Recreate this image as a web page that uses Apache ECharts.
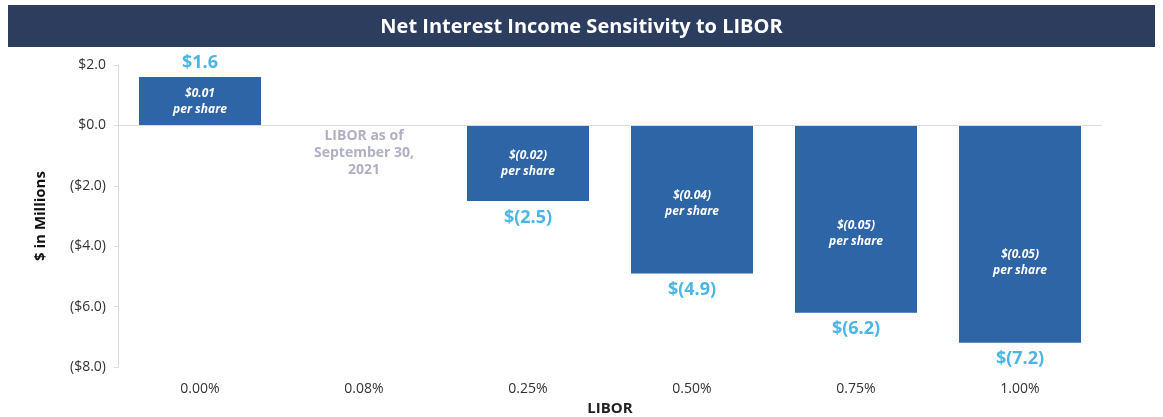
<!DOCTYPE html>
<html>
<head>
<meta charset="utf-8">
<script src="https://cdn.jsdelivr.net/npm/echarts@6/dist/echarts.min.js"></script>
<style>html,body{margin:0;padding:0;background:#fff;}#c{width:1163px;height:417px;}</style>
</head>
<body>
<div id="c"></div>
<script>
const titleText = 'Net Interest Income Sensitivity to LIBOR';
const categories = ['0.00%', '0.08%', '0.25%', '0.50%', '0.75%', '1.00%'];
const values = [1.6, null, -2.5, -4.9, -6.2, -7.2];
const valueLabels = ['$1.6', '', '$(2.5)', '$(4.9)', '$(6.2)', '$(7.2)'];
const perShare = ['$0.01', '', '$(0.02)', '$(0.04)', '$(0.05)', '$(0.05)'];
const noteCategory = '0.08%';
const noteText = 'LIBOR as of\nSeptember 30,\n2021';
const yMin = -8, yMax = 2, yStep = 2;
const yAxisName = '$ in Millions';
const xAxisName = 'LIBOR';

const FONT = 'Open Sans';
const innerShift = [0, 0, 0, 4, 15, 28];

function fmtY(v) {
  if (v < 0) return '($' + Math.abs(v).toFixed(1) + ')';
  return '$' + v.toFixed(1);
}

const barData = values.map((v, i) => v == null ? null : {
  value: v,
  label: {
    show: true,
    position: 'inside',
    offset: [0, innerShift[i]],
    formatter: perShare[i] + '\nper share'
  }
});

const valueLabelData = values.map((v, i) => v == null ? null : {
  value: [categories[i], v],
  label: {
    show: true,
    position: v >= 0 ? 'top' : 'bottom',
    distance: v >= 0 ? 5 : 7,
    formatter: valueLabels[i]
  }
}).filter(d => d);

const chart = echarts.init(document.getElementById('c'), null, {renderer: 'canvas'});
chart.setOption({
  animation: false,
  backgroundColor: '#fff',
  graphic: [{
    type: 'rect', left: 8, top: 5, z: -1,
    shape: {width: 1147, height: 42},
    style: {fill: '#2c3d5e'}
  }],
  title: {
    text: titleText, left: 'center', top: 12,
    textStyle: {color: '#fff', fontFamily: FONT, fontWeight: 'bold', fontSize: 20}
  },
  grid: {left: 118, right: 61, top: 65, bottom: 50, containLabel: false, outerBoundsMode: 'none'},
  xAxis: {
    type: 'category', data: categories,
    name: xAxisName, nameLocation: 'middle', nameGap: 33,
    nameTextStyle: {color: '#222', fontFamily: FONT, fontWeight: 'bold', fontSize: 15},
    axisLine: {show: false, onZero: false},
    axisTick: {show: false},
    axisLabel: {color: '#333', fontFamily: FONT, fontSize: 14, margin: 15}
  },
  yAxis: {
    type: 'value', min: yMin, max: yMax, interval: yStep,
    name: yAxisName, nameLocation: 'middle', nameGap: 70, nameRotate: 90,
    nameTextStyle: {color: '#111', fontFamily: FONT, fontWeight: 'bold', fontSize: 15},
    axisLine: {show: true, lineStyle: {color: '#dcdcdc', width: 1}},
    axisTick: {show: true, length: 4, lineStyle: {color: '#dcdcdc'}},
    splitLine: {show: false},
    axisLabel: {color: '#333', fontFamily: FONT, fontSize: 14, margin: 12, formatter: fmtY}
  },
  series: [{
    type: 'bar',
    data: barData,
    barWidth: 122,
    itemStyle: {color: '#2e65a6'},
    label: {
      color: '#fff', fontFamily: FONT, fontStyle: 'italic', fontWeight: 'bold',
      fontSize: 12, lineHeight: 16
    },
    markLine: {
      silent: true, symbol: 'none',
      label: {show: false},
      lineStyle: {color: '#dcdcdc', width: 1, type: 'solid'},
      data: [{yAxis: 0}]
    }
  }, {
    type: 'scatter',
    data: valueLabelData,
    symbolSize: 1,
    itemStyle: {color: 'rgba(0,0,0,0)'},
    label: {color: '#1fa2dc', fontFamily: FONT, fontWeight: 'bold', fontSize: 18}
  }, {
    type: 'scatter',
    data: [{
      value: [noteCategory, 0],
      label: {show: true, position: 'bottom', distance: 2, formatter: noteText}
    }],
    symbolSize: 1,
    itemStyle: {color: 'rgba(0,0,0,0)'},
    label: {color: '#9c9cb5', fontFamily: FONT, fontWeight: 'bold', fontSize: 14, lineHeight: 17, align: 'center'}
  }]
});
</script>
</body>
</html>
